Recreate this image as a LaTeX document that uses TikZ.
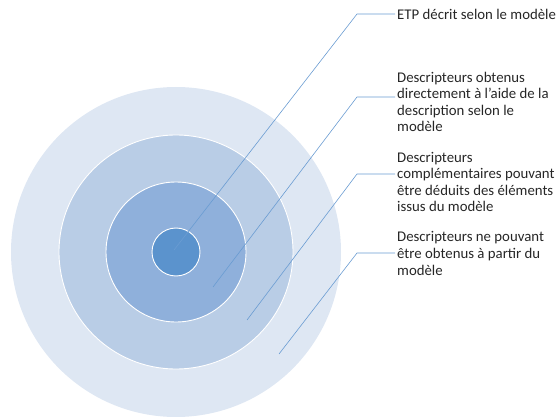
\documentclass[tikz,border=0pt]{standalone}
\usepackage{fontspec}
\setmainfont{Carlito}
\definecolor{ringA}{HTML}{DEE7F3}
\definecolor{ringB}{HTML}{B9CDE6}
\definecolor{ringC}{HTML}{8FB0DB}
\definecolor{ringD}{HTML}{5B93CD}
\definecolor{leadblue}{HTML}{6A9CD2}
\tikzset{
  ring/.style={circle, draw=white, line width=0.9pt, inner sep=0pt},
  leader/.style={draw=leadblue, line width=0.6pt},
  desc/.style={anchor=west, align=left, inner sep=2pt, text=black!85,
    font=\fontsize{14.8}{16.6}\selectfont},
}
\begin{document}
\begin{tikzpicture}[x=1pt,y=1pt]
  \useasboundingbox (0,0) rectangle (560,-417);
  % les cercles
  \node[ring, draw=none, fill=ringA, minimum size=330] (outer) at (176,-252) {};
  \node[ring, fill=ringB, minimum size=234] (mid) at (176,-252) {};
  \node[ring, fill=ringC, minimum size=140] (inner) at (176,-252) {};
  \node[ring, fill=ringD, minimum size=48] (core) at (176,-252) {};
  % les textes
  \node[desc] (t1) at (395,-14) {ETP décrit selon le modèle};
  \node[desc] (t2) at (395,-102) {Descripteurs obtenus\\directement à l’aide de la\\description selon le\\modèle};
  \node[desc] (t3) at (395,-182) {Descripteurs\\complémentaires pouvant\\être déduits des éléments\\issus du modèle};
  \node[desc] (t4) at (395,-253.5) {Descripteurs ne pouvant\\être obtenus à partir du\\modèle};
  % les renvois
  \coordinate (s1) at (174,-250);
  \coordinate (s2) at (213,-287);
  \coordinate (s3) at (247,-320);
  \coordinate (s4) at (279,-354);
  \coordinate (k1) at (357,-14);
  \coordinate (k2) at (357,-97);
  \coordinate (k3) at (357,-174);
  \coordinate (k4) at (357,-253);
  \draw[leader] (s1) -- (k1) -- (k1 -| t1.west);
  \draw[leader] (s2) -- (k2) -- (k2 -| t2.west);
  \draw[leader] (s3) -- (k3) -- (k3 -| t3.west);
  \draw[leader] (s4) -- (k4) -- (k4 -| t4.west);
\end{tikzpicture}
\end{document}
